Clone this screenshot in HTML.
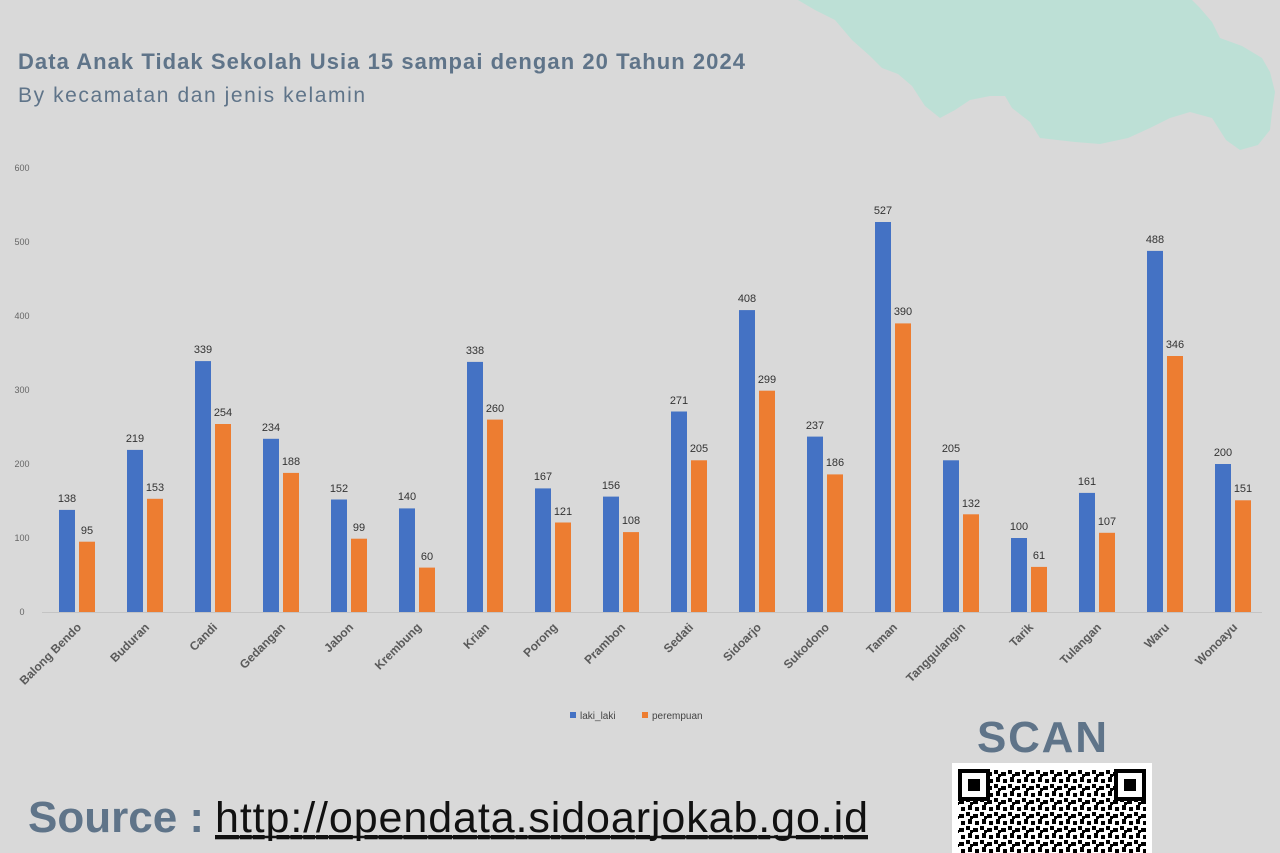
<!DOCTYPE html>
<html><head><meta charset="utf-8"><style>
html,body{margin:0;padding:0;background:#d9d9d9;}
svg{display:block}
</style></head><body>
<svg width="1280" height="853" viewBox="0 0 1280 853" xmlns="http://www.w3.org/2000/svg" font-family="Liberation Sans, sans-serif">
<rect width="1280" height="853" fill="#d9d9d9"/>
<path d="M798 0 L1192 0 L1200 8 L1212 22 L1220 38 L1242 46 L1262 58 L1270 72 L1275 92 L1272 112 L1270 130 L1258 145 L1240 150 L1226 140 L1212 118 L1190 112 L1170 118 L1150 128 L1128 138 L1100 144 L1075 142 L1040 138 L1030 122 L1012 108 L1005 96 L990 96 L970 100 L955 110 L940 118 L925 106 L912 86 L898 74 L882 68 L870 56 L852 40 L835 20 L815 10 Z" fill="#bde0d6"/>
<text x="18" y="69" font-size="22" font-weight="bold" fill="#5f7489" textLength="727">Data Anak Tidak Sekolah Usia 15 sampai dengan 20 Tahun 2024</text>
<text x="18" y="102" font-size="21" fill="#5f7489" textLength="347">By kecamatan dan jenis kelamin</text>
<g font-size="9" fill="#666" text-anchor="middle">
<text x="22" y="615">0</text><text x="22" y="541">100</text><text x="22" y="467">200</text><text x="22" y="393">300</text><text x="22" y="319">400</text><text x="22" y="245">500</text><text x="22" y="171">600</text>
</g>
<line x1="42" y1="612.5" x2="1262" y2="612.5" stroke="#c4c4c4" stroke-width="1"/>
<g fill="#4472c4">
<rect x="59" y="509.9" width="16" height="102.1"/><rect x="127" y="449.9" width="16" height="162.1"/><rect x="195" y="361.1" width="16" height="250.9"/><rect x="263" y="438.8" width="16" height="173.2"/><rect x="331" y="499.5" width="16" height="112.5"/><rect x="399" y="508.4" width="16" height="103.6"/><rect x="467" y="361.9" width="16" height="250.1"/><rect x="535" y="488.4" width="16" height="123.6"/><rect x="603" y="496.6" width="16" height="115.4"/><rect x="671" y="411.5" width="16" height="200.5"/><rect x="739" y="310.1" width="16" height="301.9"/><rect x="807" y="436.6" width="16" height="175.4"/><rect x="875" y="222" width="16" height="390"/><rect x="943" y="460.3" width="16" height="151.7"/><rect x="1011" y="538" width="16" height="74"/><rect x="1079" y="492.9" width="16" height="119.1"/><rect x="1147" y="250.9" width="16" height="361.1"/><rect x="1215" y="464" width="16" height="148"/>
</g>
<g fill="#ed7d31">
<rect x="79" y="541.7" width="16" height="70.3"/><rect x="147" y="498.8" width="16" height="113.2"/><rect x="215" y="424" width="16" height="188"/><rect x="283" y="472.9" width="16" height="139.1"/><rect x="351" y="538.7" width="16" height="73.3"/><rect x="419" y="567.6" width="16" height="44.4"/><rect x="487" y="419.6" width="16" height="192.4"/><rect x="555" y="522.5" width="16" height="89.5"/><rect x="623" y="532.1" width="16" height="79.9"/><rect x="691" y="460.3" width="16" height="151.7"/><rect x="759" y="390.7" width="16" height="221.3"/><rect x="827" y="474.4" width="16" height="137.6"/><rect x="895" y="323.4" width="16" height="288.6"/><rect x="963" y="514.3" width="16" height="97.7"/><rect x="1031" y="566.9" width="16" height="45.1"/><rect x="1099" y="532.8" width="16" height="79.2"/><rect x="1167" y="356" width="16" height="256"/><rect x="1235" y="500.3" width="16" height="111.7"/>
</g>
<g font-size="11" fill="#333" text-anchor="middle">
<text x="67" y="502">138</text><text x="87" y="534">95</text>
<text x="135" y="442">219</text><text x="155" y="491">153</text>
<text x="203" y="353">339</text><text x="223" y="416">254</text>
<text x="271" y="431">234</text><text x="291" y="465">188</text>
<text x="339" y="492">152</text><text x="359" y="531">99</text>
<text x="407" y="500">140</text><text x="427" y="560">60</text>
<text x="475" y="354">338</text><text x="495" y="412">260</text>
<text x="543" y="480">167</text><text x="563" y="515">121</text>
<text x="611" y="489">156</text><text x="631" y="524">108</text>
<text x="679" y="404">271</text><text x="699" y="452">205</text>
<text x="747" y="302">408</text><text x="767" y="383">299</text>
<text x="815" y="429">237</text><text x="835" y="466">186</text>
<text x="883" y="214">527</text><text x="903" y="315">390</text>
<text x="951" y="452">205</text><text x="971" y="507">132</text>
<text x="1019" y="530">100</text><text x="1039" y="559">61</text>
<text x="1087" y="485">161</text><text x="1107" y="525">107</text>
<text x="1155" y="243">488</text><text x="1175" y="348">346</text>
<text x="1223" y="456">200</text><text x="1243" y="492">151</text>
</g>
<g font-size="12" font-weight="bold" fill="#5a5a5a" text-anchor="end">
<text transform="translate(82,628) rotate(-45)">Balong Bendo</text>
<text transform="translate(150,628) rotate(-45)">Buduran</text>
<text transform="translate(218,628) rotate(-45)">Candi</text>
<text transform="translate(286,628) rotate(-45)">Gedangan</text>
<text transform="translate(354,628) rotate(-45)">Jabon</text>
<text transform="translate(422,628) rotate(-45)">Krembung</text>
<text transform="translate(490,628) rotate(-45)">Krian</text>
<text transform="translate(558,628) rotate(-45)">Porong</text>
<text transform="translate(626,628) rotate(-45)">Prambon</text>
<text transform="translate(694,628) rotate(-45)">Sedati</text>
<text transform="translate(762,628) rotate(-45)">Sidoarjo</text>
<text transform="translate(830,628) rotate(-45)">Sukodono</text>
<text transform="translate(898,628) rotate(-45)">Taman</text>
<text transform="translate(966,628) rotate(-45)">Tanggulangin</text>
<text transform="translate(1034,628) rotate(-45)">Tarik</text>
<text transform="translate(1102,628) rotate(-45)">Tulangan</text>
<text transform="translate(1170,628) rotate(-45)">Waru</text>
<text transform="translate(1238,628) rotate(-45)">Wonoayu</text>
</g>
<rect x="570" y="712" width="6" height="6" fill="#4472c4"/>
<text x="580" y="719" font-size="10" fill="#444">laki_laki</text>
<rect x="642" y="712" width="6" height="6" fill="#ed7d31"/>
<text x="652" y="719" font-size="10" fill="#444">perempuan</text>
<text x="28" y="832" font-size="44" font-weight="bold" fill="#5f7489">Source :</text>
<text x="215" y="832" font-size="43" fill="#111" text-decoration="underline" textLength="653">http://opendata.sidoarjokab.go.id</text>
<line x1="215" y1="837" x2="868" y2="837" stroke="#111" stroke-width="2.5"/>
<text x="977" y="752" font-size="44" font-weight="bold" fill="#5f7489" textLength="130">SCAN</text>
<defs>
<pattern id="qr" width="14" height="14" patternUnits="userSpaceOnUse">
<rect width="14" height="14" fill="#fff"/>
<rect x="0" y="0" width="4" height="4" fill="#000"/><rect x="7" y="2" width="5" height="4" fill="#000"/><rect x="2" y="7" width="4" height="5" fill="#000"/><rect x="9" y="9" width="4" height="4" fill="#000"/><rect x="4" y="4" width="3" height="3" fill="#000"/>
</pattern>
</defs>
<rect x="952" y="763" width="200" height="90" fill="#fff"/>
<rect x="958" y="769" width="188" height="84" fill="url(#qr)"/>
<rect x="960" y="771" width="28" height="28" fill="#fff" stroke="#000" stroke-width="4"/><rect x="968" y="779" width="12" height="12" fill="#000"/>
<rect x="1116" y="771" width="28" height="28" fill="#fff" stroke="#000" stroke-width="4"/><rect x="1124" y="779" width="12" height="12" fill="#000"/>
</svg>
</body></html>
